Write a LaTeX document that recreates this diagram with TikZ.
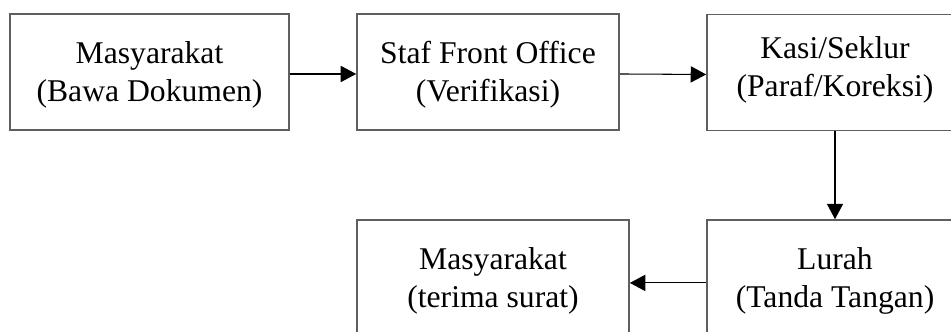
\documentclass[tikz,border=0pt]{standalone}
\usepackage{fontspec}
\setmainfont{Liberation Serif}
\usetikzlibrary{arrows.meta}
\definecolor{boxgray}{RGB}{95,95,95}

\begin{document}
\begin{tikzpicture}[x=0.025cm,y=-0.025cm,
    box/.style={rectangle, draw=boxgray, line width=1.1pt, align=center, inner sep=0pt,
                minimum height=2.9cm, text height=48pt, text depth=6pt,
                font=\fontsize{22.5pt}{26.8pt}\selectfont},
    flow/.style={-{Triangle[length=11pt,width=11.5pt]}, line width=0.75pt, black}]
        \useasboundingbox (0,0) rectangle (951,331);

        \node[box, minimum width=6.975cm] (warga) at (149.5,72) {Masyarakat\\(Bawa Dokumen)};
        \node[box, minimum width=6.55cm] (staf) at (488,72) {Staf Front Office\\(Verifikasi)};
        \node[box, minimum width=6.4cm, text height=40.3pt] (kasi) at (835,72.5) {Kasi/Seklur\\(Paraf/Koreksi)};
        \node[box, minimum width=6.4cm] (lurah) at (835,278) {Lurah\\(Tanda Tangan)};
        \node[box, minimum width=6.8cm] (terima) at (493,278) {Masyarakat\\(terima surat)};

          \draw[flow]  ([yshift=-1.4pt]warga.east) -- ([yshift=-1.4pt]staf.west);
          \draw[flow]  ([yshift=-1.4pt]staf.east) -- ([yshift=-1.4pt]kasi.west);
          \draw[flow]  (kasi) -- (lurah);
          \draw[flow]  ([yshift=-3.5pt]lurah.west) -- ([yshift=-3.5pt]terima.east);

    \end{tikzpicture}
\end{document}
